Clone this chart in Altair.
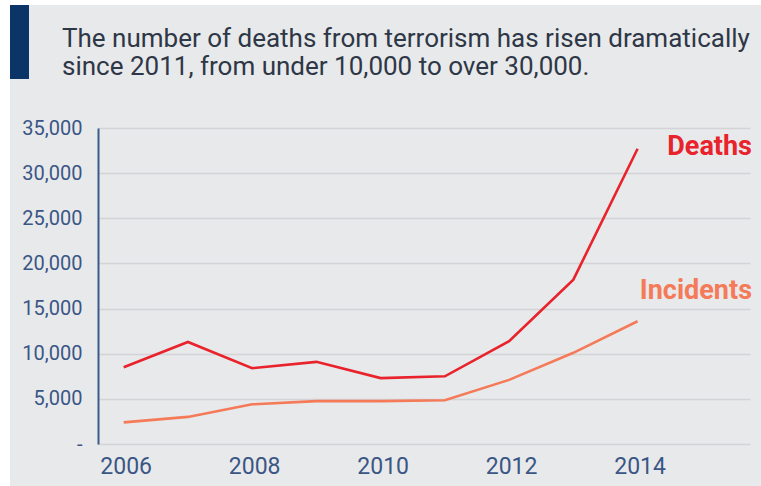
import altair as alt
import pandas as pd

years = [2006, 2007, 2008, 2009, 2010, 2011, 2012, 2013, 2014]
deaths = [8500, 11300, 8400, 9100, 7300, 7500, 11400, 18200, 32700]
incidents = [2400, 3000, 4400, 4750, 4750, 4850, 7100, 10100, 13600]
series_names = ["Deaths", "Incidents"]
series_colors = ["#e8232b", "#f47a58"]
x_ticks = [2006, 2008, 2010, 2012, 2014]
y_ticks = [0, 5000, 10000, 15000, 20000, 25000, 30000, 35000]
title_lines = [
    "The number of deaths from terrorism has risen dramatically",
    "since 2011, from under 10,000 to over 30,000.",
]

df = pd.DataFrame(
    {
        "year": years * 2,
        "value": deaths + incidents,
        "series": [series_names[0]] * len(years) + [series_names[1]] * len(years),
    }
)

FONT = "Roboto"
AXIS_COLOR = "#3a5685"
BG = "#e8e9eb"

x = alt.X(
    "year:Q",
    scale=alt.Scale(domain=[2005.6, 2015.75], nice=False, zero=False),
    axis=alt.Axis(
        values=x_ticks, format="d", grid=False, domain=False, ticks=False,
        labelFont=FONT, labelFontSize=23, labelColor=AXIS_COLOR, labelPadding=11,
        labelOffset=2, title=None,
    ),
)
y = alt.Y(
    "value:Q",
    scale=alt.Scale(domain=[0, 35000], nice=False),
    axis=alt.Axis(
        values=y_ticks, grid=True, gridColor="#d2d4d8", gridWidth=1.5,
        domain=True, domainColor="#3b5b8a", domainWidth=2, ticks=False,
        labelFont=FONT, labelFontSize=20, labelColor=AXIS_COLOR, labelPadding=16,
        labelExpr="datum.value == 0 ? '-' : format(datum.value, ',')",
        title=None,
    ),
)

lines = alt.Chart(df).mark_line(strokeWidth=2.6, clip=False).encode(
    x=x,
    y=y,
    color=alt.Color(
        "series:N",
        scale=alt.Scale(domain=series_names, range=series_colors),
        legend=None,
    ),
)

# decorations
white_left = alt.Chart().mark_rect(color="white").encode(
    x=alt.value(-98), x2=alt.value(-88), y=alt.value(-128), y2=alt.value(358)
)
white_top = alt.Chart().mark_rect(color="white").encode(
    x=alt.value(-98), x2=alt.value(663), y=alt.value(-128), y2=alt.value(-123)
)
blue_bar = alt.Chart().mark_rect(color="#0b3467").encode(
    x=alt.value(-88), x2=alt.value(-69), y=alt.value(-123), y2=alt.value(-49)
)
t1 = alt.Chart().mark_text(
    align="left", baseline="alphabetic", font=FONT, fontSize=26, color="#2e3746"
).encode(x=alt.value(-36), y=alt.value(-81), text=alt.value(title_lines[0]))
t2 = alt.Chart().mark_text(
    align="left", baseline="alphabetic", font=FONT, fontSize=26, color="#2e3746"
).encode(x=alt.value(-36), y=alt.value(-53), text=alt.value(title_lines[1]))

lab_d = alt.Chart().mark_text(
    align="right", baseline="middle", font=FONT, fontSize=27, fontWeight="bold",
    color=series_colors[0],
).encode(x=alt.value(654), y=alt.value(19), text=alt.value(series_names[0]))
lab_i = alt.Chart().mark_text(
    align="right", baseline="middle", font=FONT, fontSize=27, fontWeight="bold",
    color=series_colors[1],
).encode(x=alt.value(654), y=alt.value(163), text=alt.value(series_names[1]))

chart = (
    alt.layer(white_left, white_top, blue_bar, t1, t2, lines, lab_d, lab_i)
    .properties(
        width=652,
        height=316,
        background=BG,
        padding={"left": 98, "top": 128, "right": 11, "bottom": 42},
        autosize=alt.AutoSizeParams(type="none"),
    )
    .configure_view(stroke=None)
)

chart.save("out.html", embed_options={"renderer": "svg", "actions": False})
